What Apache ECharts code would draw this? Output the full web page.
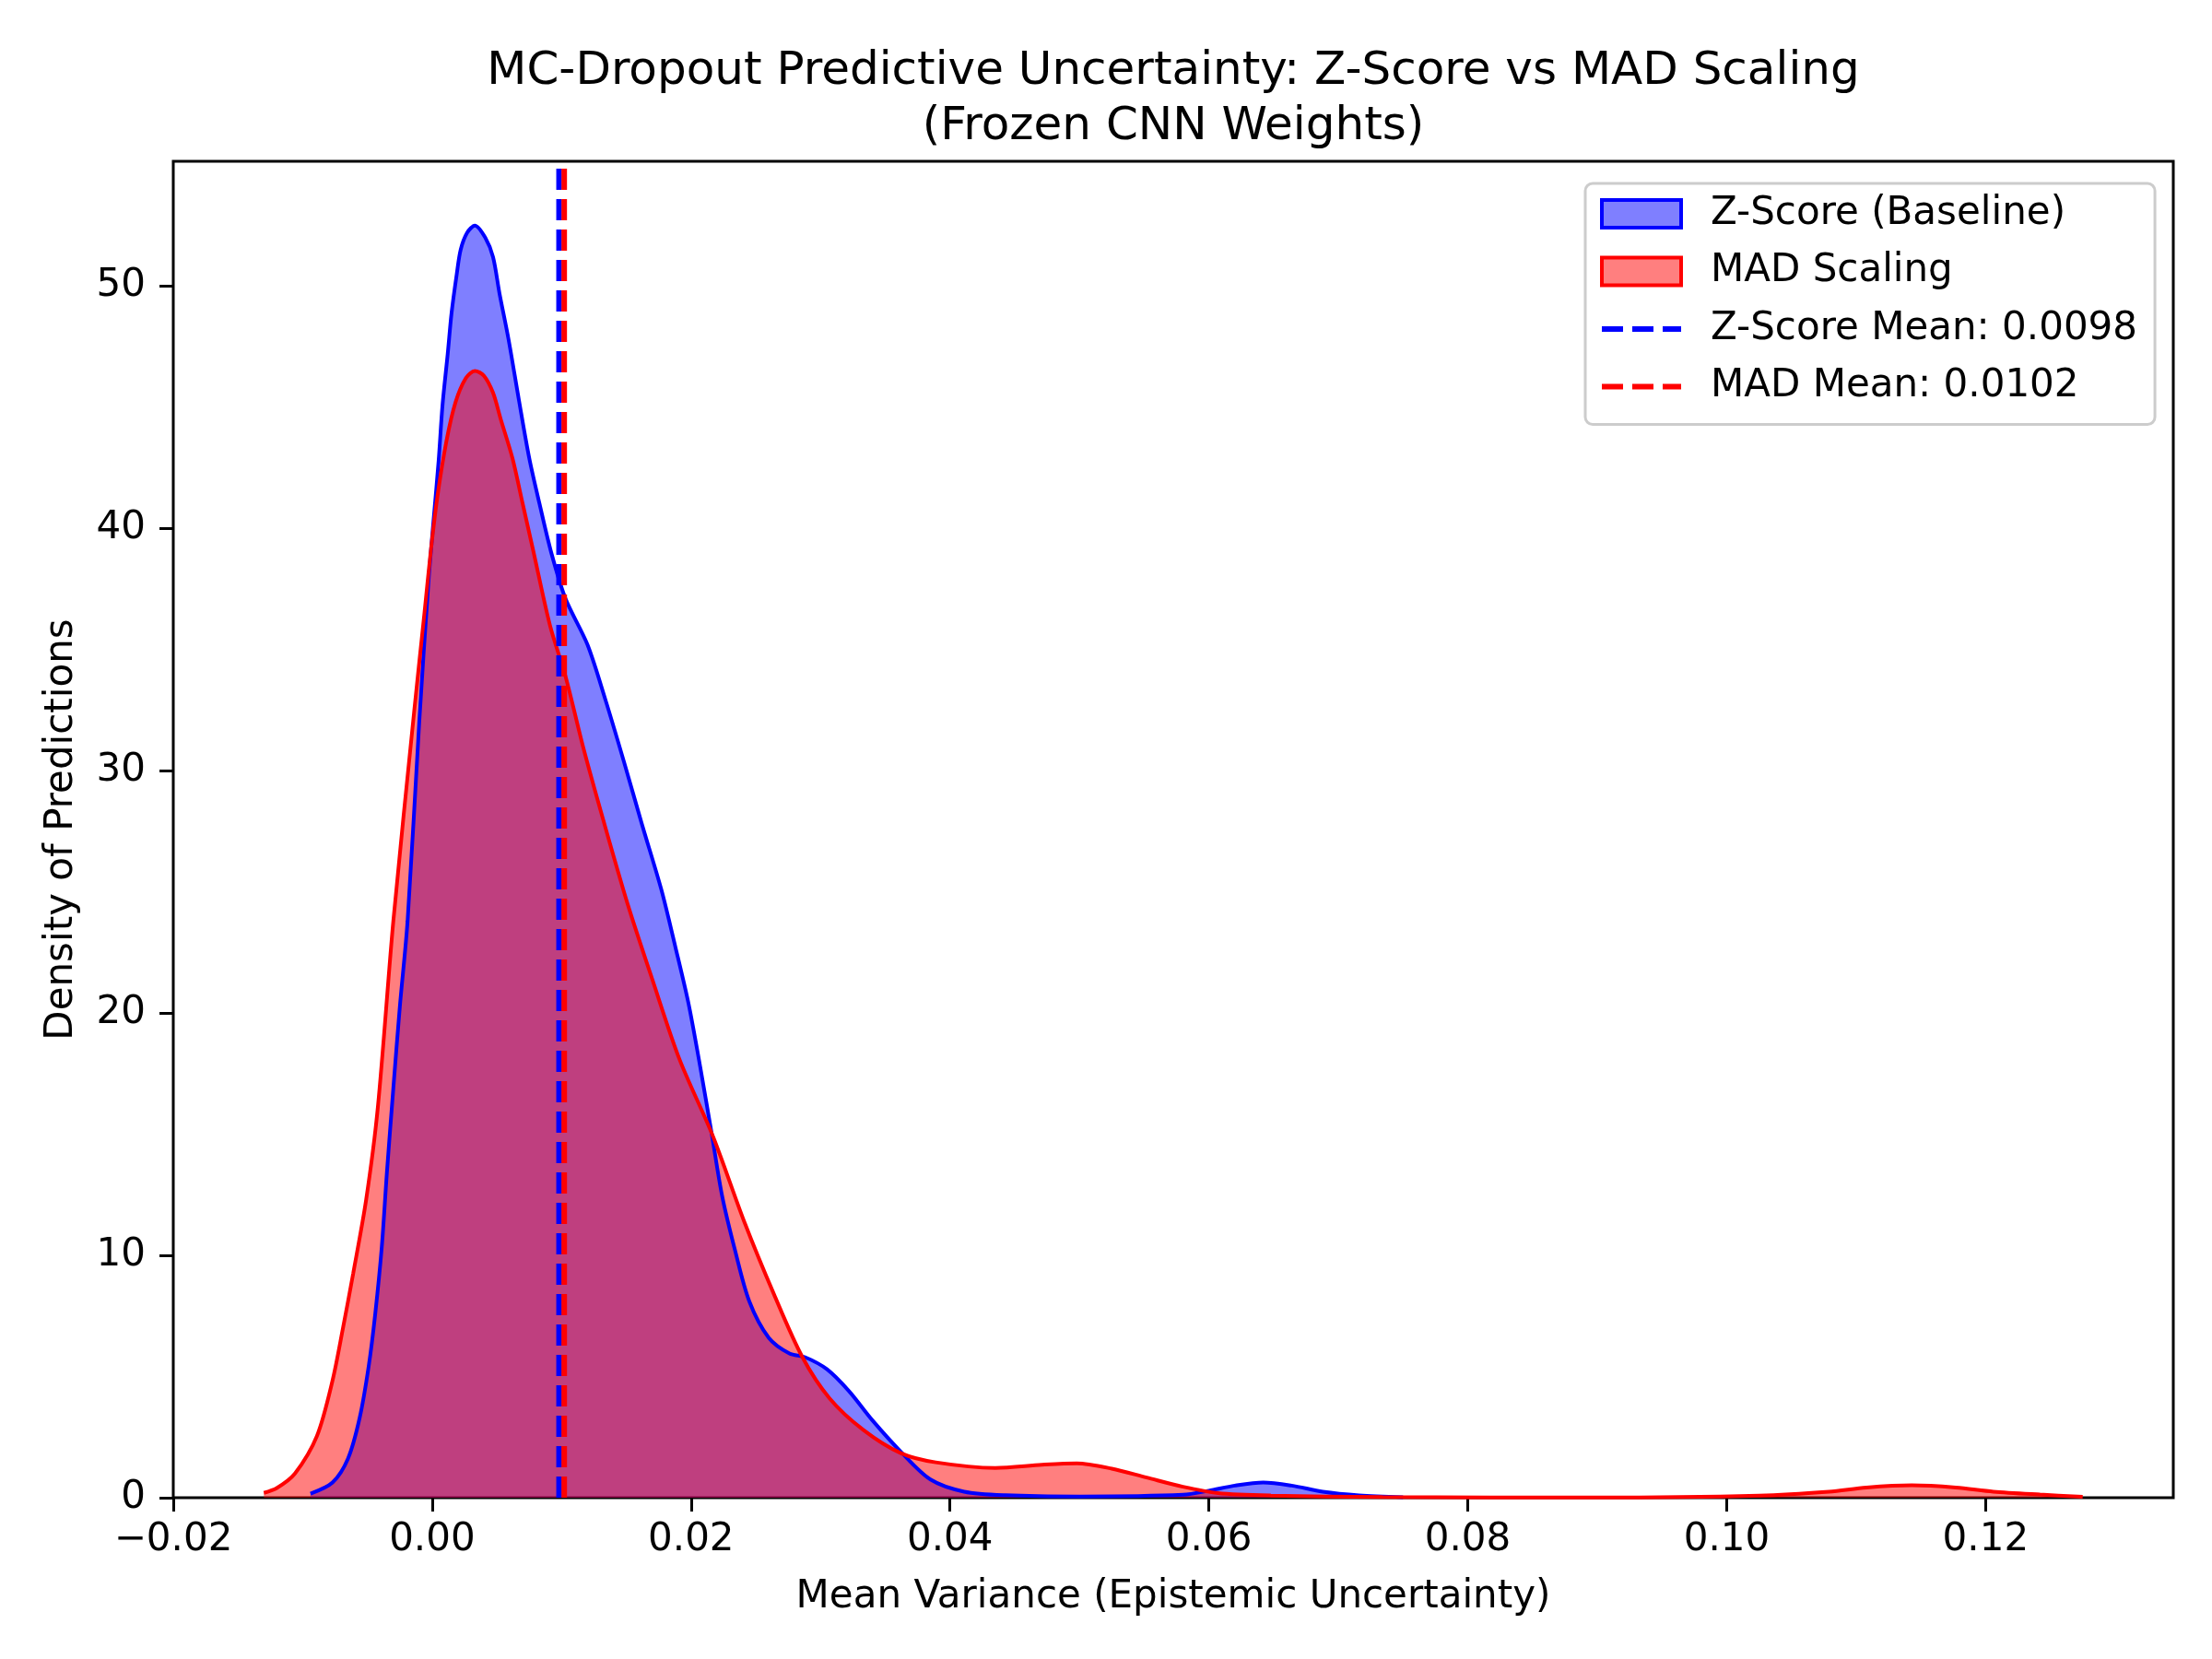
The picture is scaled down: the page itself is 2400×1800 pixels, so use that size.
<!DOCTYPE html>
<html>
<head>
<meta charset="utf-8">
<title>MC-Dropout Predictive Uncertainty</title>
<script src="https://cdn.jsdelivr.net/npm/echarts@6/dist/echarts.min.js"></script>
<style>
	html, body { margin: 0; padding: 0; background: #fff; }
	#chart { width: 2400px; height: 1800px; }
</style>
</head>
<body>
<div id="chart"></div>
<script>
// KDE curves (x = mean variance, y = density)
const zscoreX = [-0.0094, -0.0077, -0.0065, -0.0056, -0.0049, -0.0044, -0.0039, -0.0035, -0.0030, -0.0025,
	-0.0019, -0.0010, -0.0003, 0.0001, 0.0005, 0.0008, 0.0012, 0.0015, 0.0019, 0.0022, 0.0027, 0.0033,
	0.0041, 0.0047, 0.0052, 0.0059, 0.0067, 0.0075, 0.0083, 0.0092, 0.0103, 0.0120,
	0.0134, 0.0148, 0.0162, 0.0177, 0.0188, 0.0198, 0.0207, 0.0216, 0.0224, 0.0234,
	0.0245, 0.0260, 0.0276, 0.0288, 0.0305, 0.0322, 0.0340, 0.0362, 0.0385, 0.0411,
	0.0443, 0.0500, 0.0580, 0.0600, 0.0620, 0.0642, 0.0664, 0.0688, 0.0716, 0.0750]
const zscoreY = [0.17, 0.63, 1.62, 3.3, 5.44, 7.58, 10.3, 13.4, 16.9, 20.25,
	23.8, 32.0, 37.7, 40.3, 42.8, 45.1, 47.2, 48.9, 50.5, 51.5, 52.2, 52.5,
	52.0, 51.2, 49.7, 47.8, 45.3, 42.9, 41.0, 39.0, 37.1, 35.2,
	32.9, 30.4, 27.8, 25.1, 22.7, 20.4, 17.8, 15.0, 12.45, 10.2,
	8.1, 6.6, 5.95, 5.8, 5.3, 4.4, 3.2, 1.9, 0.75, 0.25,
	0.1, 0.05, 0.12, 0.29, 0.5, 0.63, 0.5, 0.25, 0.1, 0.02]

const madX = [-0.0130, -0.0120, -0.0106, -0.0089, -0.0077, -0.0069, -0.0061, -0.0051, -0.0042, -0.0030,
	-0.0014, -0.0006, -0.0001, 0.0004, 0.0011, 0.0018, 0.0026, 0.0033, 0.0040, 0.0047,
	0.0053, 0.0062, 0.0070, 0.0078, 0.0091, 0.0103, 0.0117, 0.0132, 0.0151, 0.0170,
	0.0191, 0.0217, 0.0241, 0.0264, 0.0286, 0.0307, 0.0333, 0.0362, 0.0389, 0.0435,
	0.0471, 0.0498, 0.0525, 0.0552, 0.0580, 0.0607, 0.0648, 0.0734, 0.0900, 0.1025,
	0.1079, 0.1108, 0.1143, 0.1177, 0.1206, 0.1242, 0.1275]
const madY = [0.2, 0.4, 1.0, 2.55, 4.83, 6.97, 9.26, 12.3, 16.1, 23.8,
	32.4, 36.5, 39.1, 41.3, 43.6, 45.2, 46.2, 46.5, 46.3, 45.6,
	44.5, 42.9, 41.0, 39.1, 36.0, 33.9, 30.9, 28.0, 24.5, 21.4,
	18.1, 14.9, 11.4, 8.4, 5.8, 4.1, 2.8, 1.84, 1.46, 1.23,
	1.36, 1.42, 1.2, 0.83, 0.45, 0.19, 0.09, 0.03, 0.01, 0.09,
	0.25, 0.42, 0.51, 0.42, 0.25, 0.13, 0.04]

const zscoreMean = 0.0098
const madMean = 0.0102

const xTicks = [-0.02, 0.0, 0.02, 0.04, 0.06, 0.08, 0.10, 0.12]
const yTicks = [0, 10, 20, 30, 40, 50]

const X_MIN = -0.02
const X_MAX = 0.1345
const Y_MAX = 55.15

const FONT = 'DejaVu Sans'
const BLUE = '#0000ff'
const RED = '#ff0000'

const zip = (xs, ys) => xs.map((x, i) => [x, ys[i]])
const zName = 'Z-Score Mean: ' + zscoreMean.toFixed(4)
const madName = 'MAD Mean: ' + madMean.toFixed(4)

const chart = echarts.init(document.getElementById('chart'), null, { renderer: 'canvas' })

function kdeSeries(name, data, color) {
	return {
		name: name,
		type: 'line',
		data: data,
		smooth: 0.3,
		symbol: 'none',
		z: 2,
		lineStyle: { color: color, width: 4 },
		itemStyle: { color: color },
		areaStyle: { color: color, opacity: 0.5 },
		emphasis: { disabled: true },
	}
}

// vertical mean line, spanning the full y range of the axis
function meanSeries(name, value, color) {
	return {
		name: name,
		type: 'line',
		data: [[value, 0], [value, Y_MAX]],
		symbol: 'none',
		z: 3,
		lineStyle: { color: color, width: 6, type: [23, 10] },
		itemStyle: { color: color },
		emphasis: { disabled: true },
	}
}

chart.setOption({
	animation: false,
	backgroundColor: '#ffffff',
	textStyle: { fontFamily: FONT },
	graphic: [
		{
			type: 'text',
			x: 1273,
			y: 48,
			style: {
				text: 'MC-Dropout Predictive Uncertainty: Z-Score vs MAD Scaling\n(Frozen CNN Weights)',
				fill: '#000',
				font: '50px "DejaVu Sans"',
				lineHeight: 60,
				align: 'center',
				verticalAlign: 'top',
			},
		},
	],
	grid: {
		left: 188,
		right: 42,
		top: 175,
		bottom: 175,
		show: true,
		borderColor: '#000',
		borderWidth: 3,
		containLabel: false,
	},
	legend: {
		orient: 'vertical',
		left: 1720,
		top: 199,
		itemWidth: 86,
		itemHeight: 30,
		itemGap: 20.5,
		padding: [12, 19, 20, 15],
		borderColor: '#cccccc',
		borderWidth: 3,
		borderRadius: 8,
		backgroundColor: 'rgba(255,255,255,0.8)',
		selectedMode: false,
		textStyle: { fontFamily: FONT, fontSize: 42, lineHeight: 42, color: '#000', padding: [0, 0, 0, 27] },
		data: [
			{ name: 'Z-Score (Baseline)', icon: 'rect', itemStyle: { color: 'rgba(0,0,255,0.5)', borderColor: BLUE, borderWidth: 4 } },
			{ name: 'MAD Scaling', icon: 'rect', itemStyle: { color: 'rgba(255,0,0,0.5)', borderColor: RED, borderWidth: 4 } },
			{ name: zName, itemStyle: { color: 'transparent', borderWidth: 0 }, lineStyle: { color: BLUE, width: 6, type: [23, 10] } },
			{ name: madName, itemStyle: { color: 'transparent', borderWidth: 0 }, lineStyle: { color: RED, width: 6, type: [23, 10] } },
		],
	},
	xAxis: {
		type: 'value',
		min: X_MIN,
		max: X_MAX,
		name: 'Mean Variance (Epistemic Uncertainty)',
		nameLocation: 'middle',
		nameGap: 87,
		nameTextStyle: { fontFamily: FONT, fontSize: 42, color: '#000' },
		axisLine: { show: false, onZero: false },
		splitLine: { show: false },
		axisTick: { show: true, length: 15, lineStyle: { color: '#000', width: 3 }, customValues: xTicks },
		axisLabel: {
			fontFamily: FONT,
			fontSize: 42,
			color: '#000',
			margin: 25,
			customValues: xTicks,
			formatter: (v) => (v < 0 ? '\u2212' : '') + Math.abs(v).toFixed(2),
		},
	},
	yAxis: {
		type: 'value',
		min: 0,
		max: Y_MAX,
		name: 'Density of Predictions',
		nameLocation: 'middle',
		nameGap: 100,
		nameTextStyle: { fontFamily: FONT, fontSize: 42, color: '#000' },
		axisLine: { show: false, onZero: false },
		splitLine: { show: false },
		axisTick: { show: true, length: 15, lineStyle: { color: '#000', width: 3 }, customValues: yTicks },
		axisLabel: {
			fontFamily: FONT,
			fontSize: 42,
			color: '#000',
			margin: 30,
			padding: [9, 0, 0, 0],
			customValues: yTicks,
			formatter: (v) => String(v),
		},
	},
	series: [
		kdeSeries('Z-Score (Baseline)', zip(zscoreX, zscoreY), BLUE),
		kdeSeries('MAD Scaling', zip(madX, madY), RED),
		meanSeries(zName, zscoreMean, BLUE),
		meanSeries(madName, madMean, RED),
	],
})
</script>
</body>
</html>
